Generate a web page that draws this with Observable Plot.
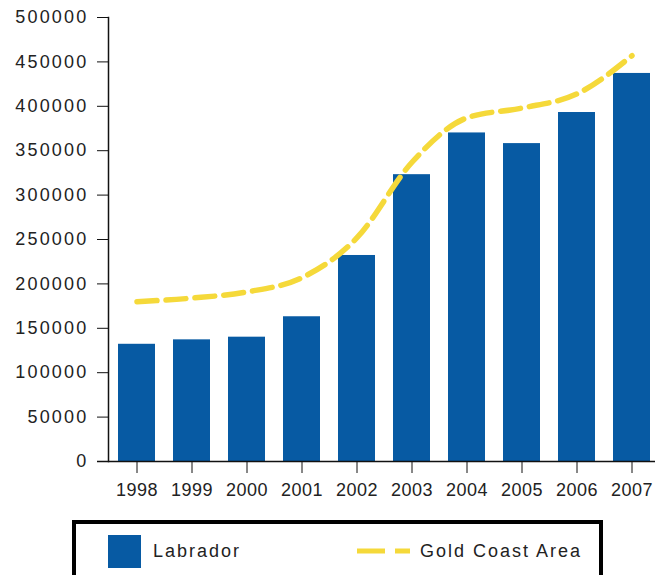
<!DOCTYPE html>
<html>
<head>
<meta charset="utf-8">
<script src="https://cdn.jsdelivr.net/npm/d3@7"></script>
<script src="https://cdn.jsdelivr.net/npm/@observablehq/plot@0.6"></script>
<style>
  html, body { margin: 0; padding: 0; background: #fff; overflow: hidden; }
  #wrap { position: relative; width: 655px; height: 575px; font-family: "Liberation Sans", Arial, sans-serif; }
  #chart { position: absolute; left: 0; top: 0; }
  #chart g[aria-label="y-axis tick label"] { letter-spacing: 2.2px; }
  #chart g[aria-label="x-axis tick label"] { letter-spacing: 0.5px; }
  #legend { position: absolute; left: 72px; top: 520px; width: 523px; height: 60px; border: 4px solid #000; box-sizing: content-box; background: #fff; }
  .lg-item { position: absolute; top: 0; height: 54px; display: flex; align-items: center; font-size: 18px; letter-spacing: 2px; color: #222; }
  .sw { width: 33px; height: 33px; background: #075aa3; display: inline-block; margin-right: 12px; }
</style>
</head>
<body>
<div id="wrap">
  <div id="chart"></div>
  <div id="legend">
    <div class="lg-item" style="left:32px;"><span class="sw"></span><span>Labrador</span></div>
    <div class="lg-item" style="left:281px;">
      <svg width="53" height="10" style="margin-right:10px"><line x1="0" y1="5" x2="53" y2="5" stroke="#f5d93a" stroke-width="5" stroke-dasharray="28 10 15"/></svg>
      <span>Gold Coast Area</span>
    </div>
  </div>
</div>
<script>
const years = ["1998","1999","2000","2001","2002","2003","2004","2005","2006","2007"];
const labrador = [132000, 137000, 140000, 163000, 232000, 323000, 370000, 358000, 393000, 437000];
const goldCoast = [180000, 184000, 191000, 207000, 252000, 337000, 387000, 398000, 414000, 457000];
const yTicks = [0, 50000, 100000, 150000, 200000, 250000, 300000, 350000, 400000, 450000, 500000];

const data = years.map((y, i) => ({year: y, labrador: labrador[i], gold: goldCoast[i]}));

const chart = Plot.plot({
  width: 655,
  height: 515,
  marginTop: 17,
  marginBottom: 54,
  marginLeft: 108,
  marginRight: 0,
  style: {fontFamily: "Liberation Sans, Arial, sans-serif", color: "#222", background: "transparent"},
  x: {domain: years, range: [106, 661], paddingInner: 0.33, paddingOuter: 0.165},
  y: {domain: [0, 500000]},
  marks: [
    Plot.barY(data, {x: "year", y: "labrador", fill: "#075aa3"}),
    Plot.line(data, {x: "year", y: "gold", stroke: "#f5d93a", strokeWidth: 5.5, strokeDasharray: "20 9", curve: "monotone-x"}),
    Plot.frame({anchor: "left", stroke: "#111", strokeWidth: 1.5}),
    Plot.ruleY([0], {stroke: "#111", strokeWidth: 1.5, insetLeft: -11}),
    Plot.axisY({ticks: yTicks, tickFormat: d => String(d), tickSize: 11, tickPadding: 9, fontSize: 18, stroke: "#111", label: null}),
    Plot.axisX({tickSize: 12, tickPadding: 10, fontSize: 18, stroke: "#111", label: null})
  ]
});
document.getElementById("chart").appendChild(chart);
</script>
</body>
</html>
